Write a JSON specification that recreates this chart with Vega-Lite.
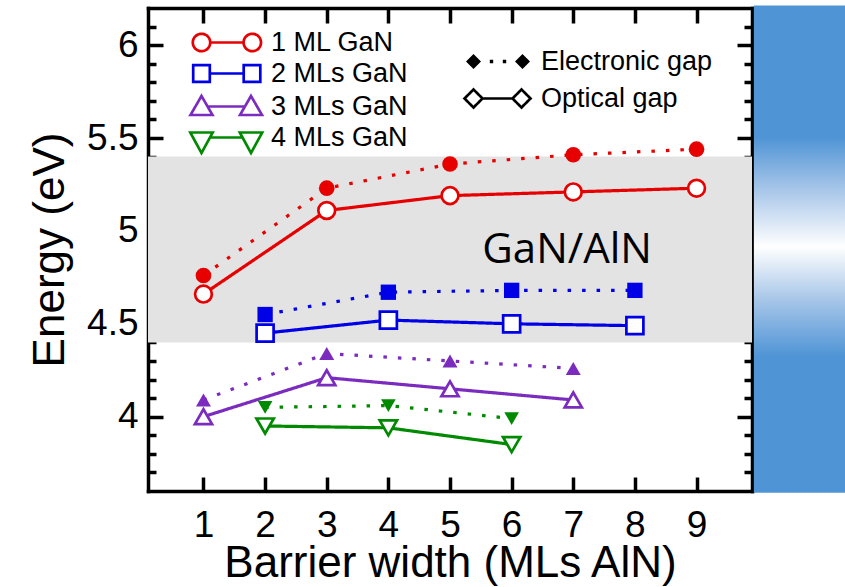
{
  "$schema": "https://vega.github.io/schema/vega-lite/v6.json",
  "width": 604,
  "height": 483,
  "autosize": {"type": "none"},
  "padding": {"left": 148, "top": 8, "right": 93, "bottom": 96},
  "background": "white",
  "config": {
    "view": {"stroke": null},
    "font": "Liberation Sans",
    "axis": {
      "grid": false,
      "labelColor": "black",
      "titleColor": "black",
      "tickColor": "black",
      "domainColor": "black",
      "labelFont": "Liberation Sans",
      "titleFont": "Liberation Sans",
      "titleFontWeight": "normal",
      "zindex": 1,
      "tickCap": "butt",
      "domainCap": "square"
    }
  },
  "datasets": {
    "gaps": [
      {"w": 1, "E": 4.76, "series": "1 ML GaN", "gap": "Electronic gap"},
      {"w": 3, "E": 5.23, "series": "1 ML GaN", "gap": "Electronic gap"},
      {"w": 5, "E": 5.36, "series": "1 ML GaN", "gap": "Electronic gap"},
      {"w": 7, "E": 5.41, "series": "1 ML GaN", "gap": "Electronic gap"},
      {"w": 9, "E": 5.44, "series": "1 ML GaN", "gap": "Electronic gap"},
      {"w": 1, "E": 4.66, "series": "1 ML GaN", "gap": "Optical gap"},
      {"w": 3, "E": 5.11, "series": "1 ML GaN", "gap": "Optical gap"},
      {"w": 5, "E": 5.19, "series": "1 ML GaN", "gap": "Optical gap"},
      {"w": 7, "E": 5.21, "series": "1 ML GaN", "gap": "Optical gap"},
      {"w": 9, "E": 5.23, "series": "1 ML GaN", "gap": "Optical gap"},
      {"w": 2, "E": 4.55, "series": "2 MLs GaN", "gap": "Electronic gap"},
      {"w": 4, "E": 4.67, "series": "2 MLs GaN", "gap": "Electronic gap"},
      {"w": 6, "E": 4.68, "series": "2 MLs GaN", "gap": "Electronic gap"},
      {"w": 8, "E": 4.68, "series": "2 MLs GaN", "gap": "Electronic gap"},
      {"w": 2, "E": 4.45, "series": "2 MLs GaN", "gap": "Optical gap"},
      {"w": 4, "E": 4.52, "series": "2 MLs GaN", "gap": "Optical gap"},
      {"w": 6, "E": 4.50, "series": "2 MLs GaN", "gap": "Optical gap"},
      {"w": 8, "E": 4.49, "series": "2 MLs GaN", "gap": "Optical gap"},
      {"w": 1, "E": 4.09, "series": "3 MLs GaN", "gap": "Electronic gap"},
      {"w": 3, "E": 4.34, "series": "3 MLs GaN", "gap": "Electronic gap"},
      {"w": 5, "E": 4.30, "series": "3 MLs GaN", "gap": "Electronic gap"},
      {"w": 7, "E": 4.26, "series": "3 MLs GaN", "gap": "Electronic gap"},
      {"w": 1, "E": 4.00, "series": "3 MLs GaN", "gap": "Optical gap"},
      {"w": 3, "E": 4.21, "series": "3 MLs GaN", "gap": "Optical gap"},
      {"w": 5, "E": 4.15, "series": "3 MLs GaN", "gap": "Optical gap"},
      {"w": 7, "E": 4.09, "series": "3 MLs GaN", "gap": "Optical gap"},
      {"w": 2, "E": 4.05, "series": "4 MLs GaN", "gap": "Electronic gap"},
      {"w": 4, "E": 4.06, "series": "4 MLs GaN", "gap": "Electronic gap"},
      {"w": 6, "E": 3.99, "series": "4 MLs GaN", "gap": "Electronic gap"},
      {"w": 2, "E": 3.95, "series": "4 MLs GaN", "gap": "Optical gap"},
      {"w": 4, "E": 3.94, "series": "4 MLs GaN", "gap": "Optical gap"},
      {"w": 6, "E": 3.85, "series": "4 MLs GaN", "gap": "Optical gap"}
    ]
  },
  "data": {"name": "gaps"},
  "resolve": {
    "axis": {"x": "independent", "y": "independent"},
    "scale": {"size": "independent"}
  },
  "layer": [
    {
      "data": {"values": [{"lo": 4.4, "hi": 5.4}]},
      "mark": {"type": "rect", "color": "#e3e3e3"},
      "encoding": {
        "y": {
          "field": "lo", "type": "quantitative",
          "scale": {"domain": [3.6, 6.2], "nice": false, "zero": false},
          "axis": {
            "orient": "left", "values": [4, 4.5, 5, 5.5, 6], "format": "~g",
            "ticks": false, "domain": false, "labelFontSize": 37, "labelPadding": 10,
            "title": "Energy (eV)", "titleFontSize": 44, "titlePadding": 14
          }
        },
        "y2": {"field": "hi"}
      }
    },
    {
      "data": {"values": [{}]},
      "mark": {
        "type": "rect",
        "clip": false,
        "fill": {
          "gradient": "linear", "x1": 0, "y1": 0, "x2": 0, "y2": 1,
          "stops": [
            {"offset": 0, "color": "#4f94d5"},
            {"offset": 0.27, "color": "#4f94d5"},
            {"offset": 0.38, "color": "#a9c7e9"},
            {"offset": 0.495, "color": "#ffffff"},
            {"offset": 0.6, "color": "#aac8e9"},
            {"offset": 0.72, "color": "#4f94d5"},
            {"offset": 1, "color": "#4f94d5"}
          ]
        }
      },
      "encoding": {
        "x": {
          "datum": 9.93, "type": "quantitative",
          "scale": {"domain": [0.1, 9.9], "nice": false, "zero": false},
          "axis": {
            "orient": "bottom", "values": [1, 2, 3, 4, 5, 6, 7, 8, 9], "format": "d",
            "ticks": false, "domain": false, "labelFontSize": 37, "labelPadding": 16,
            "title": "Barrier width (MLs AlN)", "titleFontSize": 44, "titlePadding": -2
          }
        },
        "x2": {"datum": 11.6},
        "y": {
          "datum": 3.59, "type": "quantitative",
          "axis": {
            "orient": "left",
            "values": [3.7, 3.8, 3.9, 4.1, 4.2, 4.3, 4.4, 4.6, 4.7, 4.8, 4.9, 5.1, 5.2, 5.3, 5.4, 5.6, 5.7, 5.8, 5.9, 6.1],
            "labels": false, "domain": false, "tickSize": -8, "tickWidth": 3.5, "title": null
          }
        },
        "y2": {"datum": 6.213}
      }
    },
    {
      "data": {"values": [{"label": "GaN/AlN"}]},
      "mark": {"type": "text", "font": "Open Sans", "fontSize": 42, "color": "black", "align": "center", "baseline": "middle"},
      "encoding": {
        "x": {
          "datum": 6.9, "type": "quantitative",
          "axis": {
            "orient": "top", "values": [1, 2, 3, 4, 5, 6, 7, 8, 9],
            "labels": false, "tickSize": -15, "tickWidth": 3.5,
            "domain": true, "domainWidth": 3.5, "title": null
          }
        },
        "y": {
          "datum": 4.9, "type": "quantitative",
          "axis": {
            "orient": "right", "values": [4, 4.5, 5, 5.5, 6],
            "labels": false, "tickSize": -15, "tickWidth": 3.5,
            "domain": true, "domainWidth": 3.5, "title": null
          }
        },
        "text": {"field": "label"}
      }
    },
    {
      "mark": {"type": "line", "strokeWidth": 3.2, "strokeCap": "butt"},
      "encoding": {
        "x": {
          "field": "w", "type": "quantitative",
          "axis": {
            "orient": "bottom", "values": [1, 2, 3, 4, 5, 6, 7, 8, 9],
            "labels": false, "tickSize": -14, "tickWidth": 3.5,
            "domain": true, "domainWidth": 3.5, "title": null
          }
        },
        "y": {
          "field": "E", "type": "quantitative",
          "axis": {
            "orient": "left", "values": [4, 4.5, 5, 5.5, 6],
            "labels": false, "tickSize": -15, "tickWidth": 3.5,
            "domain": true, "domainWidth": 3.5, "title": null
          }
        },
        "color": {
          "field": "series", "type": "nominal",
          "scale": {
            "domain": ["1 ML GaN", "2 MLs GaN", "3 MLs GaN", "4 MLs GaN"],
            "range": ["#e60000", "#0000e6", "#7b2cbf", "#008a00"]
          },
          "legend": {
            "title": null, "orient": "none", "legendX": 40, "legendY": 21, "padding": 0,
            "labelFont": "Liberation Sans", "labelFontSize": 27, "labelColor": "black",
            "labelOffset": 56, "rowPadding": 2, "labelLimit": 400,
            "symbolSize": 400, "symbolStrokeWidth": 2.7,
            "encode": {
              "symbols": {
                "update": {
                  "shape": [
                    {"test": "datum.value === '1 ML GaN'", "value": "M-0.87,0A0.87,0.87,0,1,1,0.87,0A0.87,0.87,0,1,1,-0.87,0ZM0.87,0L4.21,0M4.21,0A0.87,0.87,0,1,1,5.95,0A0.87,0.87,0,1,1,4.21,0Z"},
                    {"test": "datum.value === '2 MLs GaN'", "value": "M-0.83,-0.83H0.83V0.83H-0.83ZM0.83,0H4.22M4.22,-0.83H5.88V0.83H4.22Z"},
                    {"test": "datum.value === '3 MLs GaN'", "value": "M0,-1.05L1.1,0.85H-1.1ZM0.61,0H4.34M4.95,-1.05L6.05,0.85H3.85Z"},
                    {"value": "M-1.12,-0.5H1.12L0,1.55ZM0.85,0H4.1M3.83,-0.5H6.07L4.95,1.55Z"}
                  ],
                  "fill": {"value": "white"},
                  "size": {"value": 400},
                  "strokeDash": {"value": [1, 0]},
                  "opacity": {"value": 1}
                }
              }
            }
          }
        },
        "strokeDash": {
          "field": "gap", "type": "nominal",
          "scale": {"domain": ["Electronic gap", "Optical gap"], "range": [[3.5, 11], [1, 0]]},
          "legend": {
            "title": null, "orient": "none", "legendX": 312, "legendY": 40, "padding": 0,
            "labelFont": "Liberation Sans", "labelFontSize": 27, "labelColor": "black",
            "labelOffset": 54, "rowPadding": 9, "labelLimit": 400,
            "symbolSize": 400, "symbolStrokeWidth": 2.7,
            "encode": {
              "symbols": {
                "update": {
                  "shape": [
                    {"test": "datum.value === 'Electronic gap'", "value": "M0,-0.75L0.75,0L0,0.75L-0.75,0ZM4.9,-0.75L5.65,0L4.9,0.75L4.15,0ZM1.63,-0.17H1.97V0.17H1.63ZM2.93,-0.17H3.27V0.17H2.93Z"},
                    {"value": "M0,-0.9L0.9,0L0,0.9L-0.9,0ZM0.9,0H3.9M4.8,-0.9L5.7,0L4.8,0.9L3.9,0Z"}
                  ],
                  "fill": [
                    {"test": "datum.value === 'Electronic gap'", "value": "black"},
                    {"value": "white"}
                  ],
                  "stroke": [
                    {"test": "datum.value === 'Electronic gap'", "value": "transparent"},
                    {"value": "black"}
                  ],
                  "size": {"value": 400},
                  "opacity": {"value": 1}
                }
              }
            }
          }
        }
      }
    },
    {
      "transform": [{"filter": "datum.gap === 'Electronic gap'"}],
      "mark": {"type": "point", "filled": true, "opacity": 1, "strokeWidth": 0},
      "encoding": {
        "x": {"field": "w", "type": "quantitative", "axis": null},
        "y": {
          "field": "E", "type": "quantitative",
          "axis": {
            "orient": "right",
            "values": [3.7, 3.8, 3.9, 4.1, 4.2, 4.3, 4.4, 4.6, 4.7, 4.8, 4.9, 5.1, 5.2, 5.3, 5.4, 5.6, 5.7, 5.8, 5.9, 6.1],
            "labels": false, "domain": false, "tickSize": -8, "tickWidth": 3.5, "title": null
          }
        },
        "fill": {
          "field": "series", "type": "nominal", "legend": null,
          "scale": {"range": ["#e60000", "#0000e6", "#7b2cbf", "#008a00"]}
        },
        "shape": {
          "field": "series", "type": "nominal", "legend": null,
          "scale": {"range": ["circle", "square", "triangle-up", "triangle-down"]}
        },
        "size": {
          "field": "series", "type": "nominal", "legend": null,
          "scale": {"range": [245, 215, 300, 300]}
        }
      }
    },
    {
      "transform": [{"filter": "datum.gap === 'Optical gap'"}],
      "mark": {"type": "point", "filled": false, "fill": "white", "fillOpacity": 1, "opacity": 1, "strokeWidth": 2.7},
      "encoding": {
        "x": {"field": "w", "type": "quantitative", "axis": null},
        "y": {"field": "E", "type": "quantitative", "axis": null},
        "stroke": {
          "field": "series", "type": "nominal", "legend": null,
          "scale": {"range": ["#e60000", "#0000e6", "#7b2cbf", "#008a00"]}
        },
        "shape": {"field": "series", "type": "nominal", "legend": null},
        "size": {
          "field": "series", "type": "nominal", "legend": null,
          "scale": {"range": [283, 300, 440, 440]}
        }
      }
    }
  ]
}
